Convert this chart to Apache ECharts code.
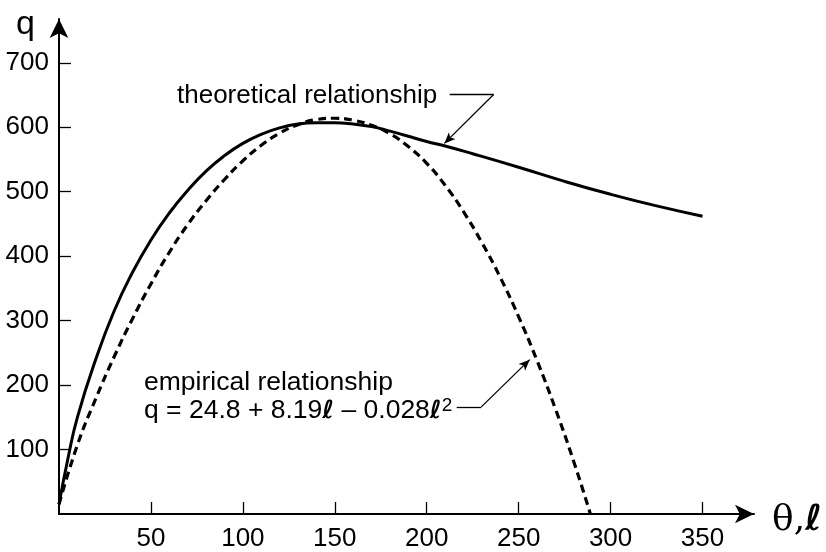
<!DOCTYPE html>
<html><head><meta charset="utf-8">
<script src="https://cdn.jsdelivr.net/npm/echarts@6/dist/echarts.min.js"></script>
<style>html,body{margin:0;padding:0;background:#fff}#c{width:826px;height:552px}</style>
</head><body><div id="c"></div>
<script>
// tick labels
const xTicks = [50, 100, 150, 200, 250, 300, 350];
const yTicks = [100, 200, 300, 400, 500, 600, 700];
// theoretical relationship (solid)
const theoX = [0, 5, 10, 20, 30, 40, 50, 60, 70, 80, 90, 100, 110, 120, 130, 140, 150, 160, 170, 180, 190, 200, 210, 225, 250, 275, 300, 325, 350];
const theoY = [15, 88, 150, 240, 315, 375, 425, 467, 502, 532, 556, 575, 589, 599, 605, 607, 607, 605, 601, 594, 586, 578, 571, 559, 538, 516, 496, 478, 462];
// empirical relationship (dashed)
const empX = [0, 10, 20, 30, 40, 50, 60, 70, 80, 90, 100, 110, 120, 130, 140, 150, 160, 170, 180, 190, 200, 210, 220, 230, 240, 250, 260, 270, 280, 289];
const empY = [15, 107, 179, 244, 303, 357, 406, 449, 486, 519, 548, 572, 591, 604, 612, 614, 611, 603, 590, 570, 544, 510, 469, 421, 367, 306, 238, 163, 81, 0];

const theo = theoX.map((x, i) => [x, theoY[i]]);
const emp = empX.map((x, i) => [x, empY[i]]);

const chart = echarts.init(document.getElementById('c'), null, {renderer: 'canvas'});
const black = '#000';
const sans = '"Liberation Sans", Arial, Helvetica, sans-serif';
const ell = 'bold 25px "DejaVu Sans", sans-serif';

const arrowLine = {
  silent: true,
  symbol: ['none', 'none'],
  symbolSize: [7, 11],
  label: {show: false},
  lineStyle: {color: black, width: 1.3, type: 'solid'},
  emphasis: {disabled: true},
  animation: false
};

const option = {
  animation: false,
  backgroundColor: '#fff',
  grid: {left: 59, top: 19, width: 695, height: 499},
  xAxis: {
    type: 'value', min: 0, max: 378,
    axisLine: {show: true, lineStyle: {color: black, width: 2}, symbol: ['none', 'arrow'], symbolSize: [14, 19]},
    axisTick: {show: true, inside: true, length: 12, lineStyle: {color: black, width: 1.3}, customValues: xTicks},
    axisLabel: {show: true, color: black, fontFamily: sans, fontSize: 26, margin: 12, customValues: xTicks},
    splitLine: {show: false}
  },
  yAxis: {
    type: 'value', min: 0, max: 768,
    axisLine: {show: true, lineStyle: {color: black, width: 2}, symbol: ['none', 'arrow'], symbolSize: [14, 19]},
    axisTick: {show: true, inside: true, length: 12, lineStyle: {color: black, width: 1.3}, customValues: yTicks},
    axisLabel: {show: true, color: black, fontFamily: sans, fontSize: 26, margin: 10, customValues: yTicks},
    splitLine: {show: false}
  },
  series: [
    {
      name: 'theoretical relationship', type: 'line', data: theo, smooth: 0.5,
      showSymbol: false, symbol: 'none',
      lineStyle: {color: black, width: 3},
      markLine: Object.assign({}, arrowLine, {
        data: [
          [{coord: [212.5, 650.8]}, {coord: [236.4, 650.8]}],
          [{coord: [236.4, 650.8]}, {coord: [209.6, 575], symbol: 'arrow'}]
        ]
      })
    },
    {
      name: 'empirical relationship', type: 'line', data: emp, smooth: 0.5,
      showSymbol: false, symbol: 'none',
      lineStyle: {color: black, width: 3.2, type: [8, 5]},
      markLine: Object.assign({}, arrowLine, {
        data: [
          [{coord: [216.3, 166.2]}, {coord: [229.7, 166.2]}],
          [{coord: [229.7, 166.2]}, {coord: [256.0, 239.5], symbol: 'arrow'}]
        ]
      })
    }
  ],
  graphic: [
    {type: 'text', x: 16, y: 25, silent: true,
      style: {text: 'q', font: '34px ' + sans, fill: black, align: 'left', verticalAlign: 'middle'}},
    {type: 'text', x: 772, y: 521, silent: true,
      style: {text: '{t|θ,}{l|ℓ}', fill: black, align: 'left', verticalAlign: 'middle',
        rich: {t: {font: '36px "DejaVu Serif", serif', fill: black, lineHeight: 40},
               l: {font: 'bold 36px "DejaVu Sans", sans-serif', fill: black, lineHeight: 40}}}},
    {type: 'text', x: 177, y: 96, silent: true,
      style: {text: 'theoretical relationship', font: '26px ' + sans, fill: black, align: 'left', verticalAlign: 'middle'}},
    {type: 'text', x: 144, y: 383, silent: true,
      style: {text: 'empirical relationship', font: '26.5px ' + sans, fill: black, align: 'left', verticalAlign: 'middle'}},
    {type: 'text', x: 144, y: 411, silent: true,
      style: {text: '{a|q = 24.8 + 8.19}{l|ℓ}{a| – 0.028}{l|ℓ}{s|2}', fill: black, align: 'left', verticalAlign: 'middle',
        rich: {a: {font: '26.5px ' + sans, fill: black, lineHeight: 30},
               l: {font: ell, fill: black, lineHeight: 30},
               s: {font: '19px ' + sans, fill: black, verticalAlign: 'top', lineHeight: 17}}}}
  ]
};
chart.setOption(option);
</script>
</body></html>
